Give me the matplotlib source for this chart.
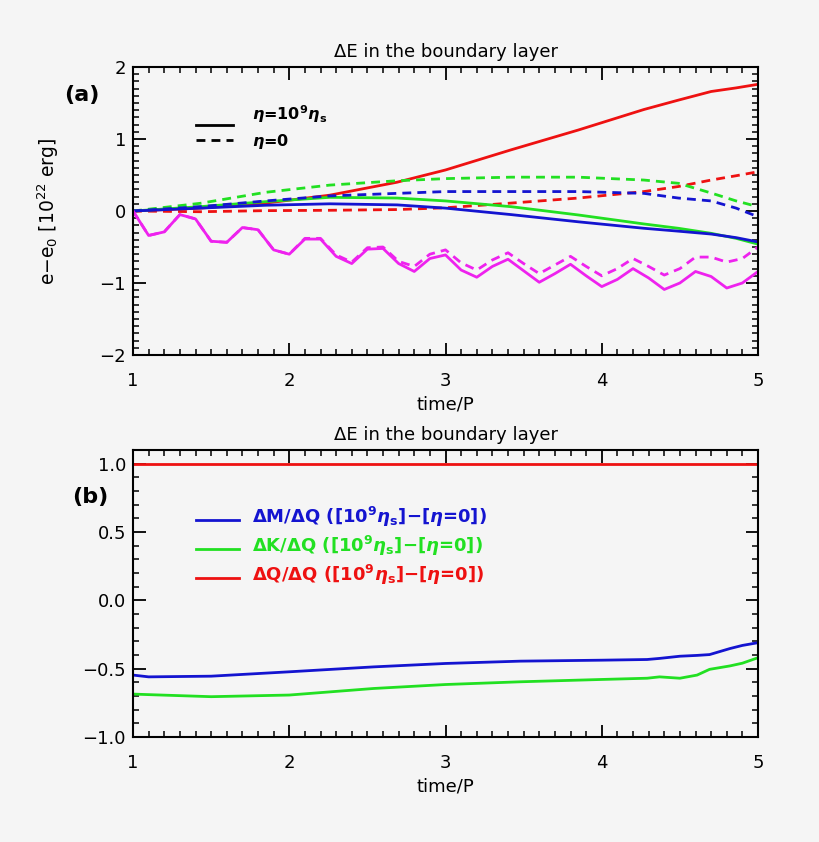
import matplotlib
matplotlib.use("Agg")
import matplotlib.pyplot as plt
from matplotlib.ticker import MultipleLocator, FuncFormatter

# ---------------- data: panel (a) ----------------
t_mag = [1.0, 1.1, 1.2, 1.3, 1.4, 1.5, 1.6, 1.7, 1.8, 1.9, 2.0, 2.1, 2.2, 2.3, 2.4,
         2.5, 2.6, 2.7, 2.8, 2.9, 3.0, 3.1, 3.2, 3.3, 3.4, 3.5, 3.6, 3.7, 3.8, 3.9,
         4.0, 4.1, 4.2, 4.3, 4.4, 4.5, 4.6, 4.7, 4.8, 4.9, 5.0]
mag_solid = [0.0, -0.34, -0.29, -0.05, -0.11, -0.42, -0.435, -0.23, -0.26, -0.54, -0.60,
             -0.39, -0.39, -0.63, -0.73, -0.53, -0.52, -0.73, -0.84, -0.66, -0.61,
             -0.82, -0.92, -0.77, -0.67, -0.83, -0.99, -0.87, -0.74, -0.90, -1.05,
             -0.95, -0.80, -0.93, -1.09, -1.00, -0.84, -0.91, -1.07, -1.00, -0.84]
mag_dash = [0.0, -0.34, -0.29, -0.05, -0.11, -0.42, -0.435, -0.23, -0.26, -0.54, -0.60,
            -0.38, -0.38, -0.61, -0.71, -0.51, -0.50, -0.70, -0.77, -0.60, -0.54,
            -0.72, -0.82, -0.68, -0.58, -0.73, -0.87, -0.75, -0.63, -0.77, -0.90,
            -0.80, -0.66, -0.77, -0.89, -0.80, -0.64, -0.64, -0.71, -0.66, -0.50]

t_a = [1.0, 1.43, 1.85, 2.26, 2.69, 3.0, 3.42, 3.85, 4.27, 4.49, 4.70, 4.86, 5.0]
red_solid = [0.0, 0.04, 0.11, 0.22, 0.40, 0.57, 0.85, 1.125, 1.41, 1.54, 1.66, 1.71, 1.76]
red_dash = [0.0, -0.01, 0.005, 0.01, 0.02, 0.045, 0.11, 0.18, 0.27, 0.34, 0.43, 0.49, 0.545]
green_solid = [0.0, 0.06, 0.13, 0.19, 0.18, 0.14, 0.06, -0.055, -0.18, -0.24, -0.31, -0.38, -0.46]
green_dash = [0.0, 0.107, 0.26, 0.36, 0.42, 0.45, 0.47, 0.47, 0.43, 0.385, 0.25, 0.14, 0.06]
blue_solid = [0.0, 0.04, 0.08, 0.10, 0.085, 0.04, -0.05, -0.15, -0.24, -0.28, -0.32, -0.37, -0.43]
blue_dash = [0.0, 0.06, 0.14, 0.21, 0.245, 0.27, 0.27, 0.27, 0.245, 0.18, 0.14, 0.04, -0.08]

# ---------------- data: panel (b) ----------------
t_b = [1.0, 1.1, 1.5, 2.0, 2.54, 3.0, 3.48, 4.0, 4.29, 4.37, 4.5, 4.61, 4.69, 4.82, 4.9, 5.0]
ratio_M = [-0.547, -0.56, -0.555, -0.523, -0.487, -0.462, -0.445, -0.438, -0.433, -0.425,
           -0.409, -0.403, -0.397, -0.353, -0.33, -0.31]
ratio_K = [-0.686, -0.69, -0.705, -0.693, -0.645, -0.616, -0.596, -0.579, -0.57, -0.56,
           -0.57, -0.547, -0.505, -0.48, -0.46, -0.42]
ratio_Q = [1.0] * len(t_b)

title_txt = "ΔE in the boundary layer"
legend_b = [r"ΔM/ΔQ ([10$^{\mathbf{9}}$$\boldsymbol{\eta}_{\mathbf{s}}$]−[$\boldsymbol{\eta}$=0])",
            r"ΔK/ΔQ ([10$^{\mathbf{9}}$$\boldsymbol{\eta}_{\mathbf{s}}$]−[$\boldsymbol{\eta}$=0])",
            r"ΔQ/ΔQ ([10$^{\mathbf{9}}$$\boldsymbol{\eta}_{\mathbf{s}}$]−[$\boldsymbol{\eta}$=0])"]

RED = "#ee1111"
GREEN = "#22e022"
BLUE = "#1414d0"
MAG = "#ee22ee"
BG = "#f5f5f5"
LW = 2.0
DASH = (0, (3.2, 2.2))

plt.rcParams["font.family"] = ["DejaVu Sans"]
plt.rcParams["mathtext.fontset"] = "dejavusans"

fig = plt.figure(figsize=(8.2, 8.42), dpi=100, facecolor=BG)
axA = fig.add_axes([0.1622, 0.5784, 0.7622, 0.3420])
axB = fig.add_axes([0.1622, 0.1247, 0.7622, 0.3409])

for ax in (axA, axB):
    ax.set_facecolor(BG)
    ax.set_xlim(1, 5)
    ax.xaxis.set_major_locator(MultipleLocator(1))
    ax.xaxis.set_minor_locator(MultipleLocator(0.1))
    ax.yaxis.set_minor_locator(MultipleLocator(0.1))
    ax.tick_params(which="both", direction="in", top=True, right=True, labelsize=13)
    ax.tick_params(which="major", length=9, width=1.3)
    ax.tick_params(which="minor", length=4.5, width=1.1)
    ax.tick_params(axis="x", which="major", pad=12)
    ax.tick_params(axis="y", which="major", pad=5)
    for s in ax.spines.values():
        s.set_linewidth(1.5)
    ax.set_title(title_txt, fontsize=13, pad=7)
    ax.set_xlabel("time/P", fontsize=13, labelpad=4)

# panel (a)
axA.set_ylim(-2, 2)
axA.yaxis.set_major_locator(MultipleLocator(1))
axA.yaxis.set_major_formatter(FuncFormatter(lambda v, p: f"{v:.0f}".replace("-", "−")))
axA.plot(t_a, red_solid, color=RED, lw=LW)
axA.plot(t_a, red_dash, color=RED, lw=LW, linestyle=DASH)
axA.plot(t_a, green_solid, color=GREEN, lw=LW)
axA.plot(t_a, green_dash, color=GREEN, lw=LW, linestyle=DASH)
axA.plot(t_a, blue_solid, color=BLUE, lw=LW)
axA.plot(t_a, blue_dash, color=BLUE, lw=LW, linestyle=DASH)
axA.plot(t_mag, mag_solid, color=MAG, lw=LW)
axA.plot(t_mag, mag_dash, color=MAG, lw=LW, linestyle=DASH)
axA.set_ylabel(r"e−e$_0$ [10$^{22}$ erg]", fontsize=13.5, labelpad=4)
axA.yaxis.set_label_coords(-0.115, 0.5)

# legend of (a): lines in axes fraction
axA.plot([0.10, 0.16], [0.80, 0.80], color="black", lw=LW, transform=axA.transAxes)
axA.plot([0.10, 0.16], [0.745, 0.745], color="black", lw=LW, linestyle=DASH,
         transform=axA.transAxes)
axA.text(0.19, 0.835, r"$\boldsymbol{\eta}$=10$^{\mathbf{9}}$$\boldsymbol{\eta}_{\mathbf{s}}$",
         transform=axA.transAxes, fontsize=11.5, fontweight="bold", va="center")
axA.text(0.19, 0.74, r"$\boldsymbol{\eta}$=0", transform=axA.transAxes,
         fontsize=11.5, fontweight="bold", va="center")
fig.text(0.100, 0.887, "(a)", fontsize=16, fontweight="bold", ha="center", va="center")

# panel (b)
axB.set_ylim(-1.0, 1.1)
axB.yaxis.set_major_locator(MultipleLocator(0.5))
axB.yaxis.set_major_formatter(FuncFormatter(lambda v, p: f"{v:.1f}".replace("-", "−")))
axB.plot(t_b, ratio_Q, color=RED, lw=LW)
axB.plot(t_b, ratio_M, color=BLUE, lw=LW)
axB.plot(t_b, ratio_K, color=GREEN, lw=LW)
for i, (lab, col) in enumerate(zip(legend_b, [BLUE, GREEN, RED])):
    y = 0.755 - i * 0.10
    axB.plot([0.10, 0.17], [y, y], color=col, lw=LW, transform=axB.transAxes)
    axB.text(0.19, y + 0.01, lab, color=col, transform=axB.transAxes, fontsize=13,
             fontweight="bold", va="center")
fig.text(0.110, 0.410, "(b)", fontsize=16, fontweight="bold", ha="center", va="center")

fig.savefig("out.png", dpi=100, facecolor=BG)
